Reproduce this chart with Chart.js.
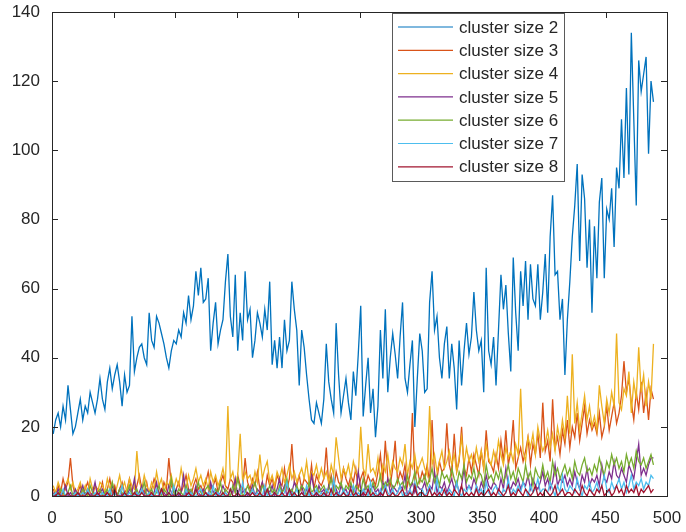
<!DOCTYPE html>
<html>
<head>
<meta charset="utf-8">
<script src="https://cdn.jsdelivr.net/npm/chart.js@4.4.1/dist/chart.umd.min.js"></script>
<style>
  html, body { margin: 0; padding: 0; background: #fff; }
  #cluster-chart { display: block; }
</style>
</head>
<body>
<canvas id="cluster-chart" width="686" height="532"></canvas>
<script>
// counts per cluster size, one sample every 2 steps (x = 1, 3, 5 ... 489)
const clusterLabels = ['cluster size 2', 'cluster size 3', 'cluster size 4', 'cluster size 5',
  'cluster size 6', 'cluster size 7', 'cluster size 8'];
const lineColors = ['#0072BD', '#D95319', '#EDB120', '#7E2F8E', '#77AC30', '#4DBEEE', '#A2142F'];

const size2 = [
  18,22,24,20,26,22,32,25,18,20, 24,28,22,26,24,30,27,24,28,34,
  28,25,33,37,31,35,38,33,26,35, 30,32,52,36,40,43,44,40,38,53,
  45,43,52,50,47,44,40,37,42,45, 44,48,46,53,50,58,51,55,65,58,
  66,56,57,63,42,50,56,44,48,51, 62,70,52,46,64,42,53,45,65,51,
  54,40,45,53,50,46,54,48,62,38, 45,37,46,37,51,42,45,62,54,48,
  32,48,43,35,28,22,21,27,24,21, 28,44,33,28,24,50,35,24,29,34,
  27,22,36,29,41,55,23,32,40,24, 31,17,26,48,34,54,30,40,47,41,
  34,46,56,34,30,38,45,20,34,47, 42,30,31,56,65,48,52,40,34,44,
  49,34,44,37,25,45,32,42,50,41, 46,59,48,42,45,30,66,42,38,46,
  32,48,64,54,61,47,36,69,53,42, 65,55,68,51,67,57,55,67,51,59,
  70,53,75,87,64,65,51,57,35,51, 62,75,84,96,68,93,86,66,80,53,
  78,63,85,92,63,83,80,89,72,95, 89,109,92,118,93,134,109,84,126,117,
  122,127,99,120,114
];
const size3 = [
  2,0,3,1,5,2,4,11,3,0, 1,3,0,2,4,1,0,3,2,1,
  4,0,2,5,1,3,0,2,4,1, 2,5,1,0,3,6,2,1,4,0,
  2,5,3,1,0,4,2,11,3,1, 2,4,1,3,6,2,0,3,5,2,
  3,1,4,7,2,3,5,1,4,6, 3,2,5,4,1,6,3,2,11,4,
  2,5,3,7,2,4,1,6,3,5, 2,6,4,3,8,2,5,15,4,3,
  6,2,5,4,3,9,2,6,4,3, 5,14,3,6,2,7,4,3,8,5,
  3,6,4,8,2,5,7,3,6,4, 5,3,7,12,4,16,5,3,8,16,
  4,7,5,9,3,6,24,5,8,4, 7,5,9,4,22,6,5,10,7,8,
  21,9,6,18,7,10,20,8,6,11, 7,12,9,6,13,8,19,10,9,7,
  12,8,16,10,19,9,13,22,8,11, 14,10,13,17,9,15,12,18,11,27,
  13,16,10,28,14,17,12,19,15,22, 14,20,17,24,16,21,26,18,22,19,
  21,18,24,17,20,26,19,23,27,21, 24,29,39,30,34,27,22,30,25,33,
  24,30,22,31,28
];
const size4 = [
  3,1,4,2,0,3,5,2,4,1, 2,4,1,3,0,5,2,3,1,4,
  3,1,5,2,4,0,3,6,2,4, 1,5,3,2,13,4,2,6,3,1,
  4,2,7,3,5,1,4,3,6,2, 5,3,8,4,2,6,3,5,8,4,
  6,3,5,2,7,4,6,3,5,8, 4,26,5,7,3,6,18,4,7,5,
  6,3,7,4,12,5,8,10,4,6, 3,7,5,8,4,6,9,5,7,4,
  6,8,5,10,4,7,6,9,5,8, 5,7,4,9,6,17,11,5,8,6,
  9,5,10,7,6,20,8,6,15,7, 8,6,11,5,9,7,12,6,10,8,
  7,11,9,15,6,10,8,12,7,9, 11,8,6,26,9,12,7,10,13,8,
  10,13,9,12,7,11,17,9,14,10, 12,9,14,10,13,8,15,11,9,13,
  10,16,12,9,14,11,13,10,15,12, 31,13,10,17,14,18,12,20,16,13,
  15,19,14,18,13,20,16,22,17,29, 18,41,21,27,19,24,29,22,26,20,
  23,19,32,26,21,28,24,30,26,47, 27,25,31,29,36,24,33,28,43,30,
  35,26,33,28,44
];
const size5 = [
  1,0,2,0,1,3,0,1,0,2, 0,1,3,0,2,0,1,4,0,1,
  2,0,1,0,3,1,0,2,0,1, 0,2,1,5,0,1,3,0,2,1,
  0,1,4,0,2,1,0,3,1,0, 2,0,1,6,0,2,1,0,3,1,
  0,2,1,0,4,1,2,0,1,3, 1,0,2,1,5,0,3,1,2,0,
  1,3,0,2,1,4,0,2,1,3, 0,2,5,1,3,0,2,1,4,2,
  1,3,0,2,1,6,2,0,3,1, 2,0,3,1,4,2,0,3,1,2,
  0,3,2,1,7,2,0,3,1,2, 3,1,2,0,4,2,5,1,3,2,
  1,3,2,6,0,2,4,1,3,2, 2,4,1,3,2,7,1,3,2,4,
  1,3,5,2,4,1,3,8,2,3, 2,5,3,1,4,2,6,3,2,4,
  3,1,5,2,8,3,2,4,3,5, 2,4,3,6,2,5,3,2,4,7,
  3,5,2,4,9,3,5,4,6,3, 5,3,7,4,2,6,4,8,3,5,
  4,6,3,9,5,4,7,5,10,6, 5,8,6,4,9,7,5,10,15,6,
  8,6,9,11,11
];
const size6 = [
  0,1,0,2,1,0,1,3,0,1, 1,0,2,1,0,3,1,0,1,2,
  0,1,2,0,4,1,0,2,1,0, 1,3,0,1,2,0,1,4,0,1,
  2,0,1,3,0,2,1,0,5,1, 0,2,1,0,3,1,2,0,1,4,
  1,0,2,3,1,0,2,1,4,0, 2,1,0,3,1,5,2,0,1,3,
  1,2,4,1,0,3,2,1,3,1, 2,0,3,1,2,5,1,2,0,3,
  1,3,2,0,4,1,2,3,1,2, 3,1,2,5,1,3,2,4,1,3,
  2,4,1,3,2,1,5,2,3,1, 4,2,3,6,2,4,3,5,2,3,
  5,3,4,2,6,3,4,7,3,5, 4,6,3,5,8,4,6,3,7,5,
  6,4,8,5,3,7,5,9,4,6, 5,8,4,7,6,3,9,5,6,4,
  7,5,8,4,6,9,5,7,4,8, 6,4,9,5,7,3,8,6,5,9,
  5,7,4,10,6,8,5,7,9,6, 8,5,10,7,6,9,11,7,8,6,
  9,7,11,8,6,10,8,12,9,11, 8,10,7,12,9,11,8,13,10,9,
  11,8,10,12,9
];
const size7 = [
  0,1,0,0,2,0,1,0,0,1, 0,0,1,0,2,0,0,1,0,0,
  1,0,0,2,0,1,0,0,3,0, 0,1,0,0,1,0,2,0,0,1,
  0,0,2,0,1,0,0,1,0,3, 0,1,0,0,2,0,1,0,0,1,
  2,0,0,1,0,3,0,1,0,0, 1,0,2,0,0,1,0,4,0,1,
  0,2,0,1,0,0,3,0,1,0, 1,0,2,0,1,4,0,1,0,2,
  0,1,0,3,0,1,0,2,0,1, 0,2,1,0,5,0,1,0,2,0,
  1,0,3,0,1,0,2,1,0,4, 0,1,0,2,0,3,1,0,2,0,
  1,3,0,1,0,2,0,4,1,0, 2,0,1,3,0,1,5,0,2,1,
  0,2,1,0,4,1,0,2,1,3, 1,0,3,1,2,0,4,1,0,2,
  3,1,0,2,1,5,0,2,1,3, 1,4,2,0,3,1,2,5,1,2,
  2,1,4,2,0,3,1,6,2,1, 3,2,1,5,2,0,3,2,4,1,
  2,4,1,3,6,2,1,4,2,3, 5,2,4,1,3,6,2,4,3,5,
  2,4,3,6,5
];
const size8 = [
  0,0,1,0,0,0,1,0,0,0, 1,0,0,0,1,0,0,0,1,0,
  0,0,1,0,0,2,0,0,0,1, 0,0,0,1,0,0,1,0,0,0,
  1,0,0,0,2,0,0,1,0,0, 0,1,0,0,0,1,0,0,2,0,
  0,0,1,0,0,0,1,0,0,1, 0,0,2,0,0,1,0,0,0,1,
  0,1,0,0,1,0,0,2,0,0, 1,0,0,1,0,0,2,0,1,0,
  0,1,0,0,2,0,0,1,0,0, 1,0,0,2,0,1,0,0,1,0,
  0,2,0,1,0,0,1,0,2,0, 1,0,0,1,0,2,0,0,1,0,
  0,1,2,0,0,1,0,3,0,1, 1,0,0,2,0,1,0,1,0,2,
  0,1,0,2,1,0,3,0,1,0, 1,0,2,0,1,0,1,2,0,1,
  0,2,1,0,1,3,0,1,0,2, 1,0,2,1,0,1,3,0,1,0,
  2,1,0,1,3,0,1,2,0,1, 1,0,2,1,0,3,1,0,2,1,
  0,2,1,3,0,1,2,0,1,3, 1,2,0,3,1,2,1,3,0,2,
  1,2,3,1,2
];

const xTicks = [0, 50, 100, 150, 200, 250, 300, 350, 400, 450, 500];
const yTicks = [0, 20, 40, 60, 80, 100, 120, 140];

const allSeries = [size2, size3, size4, size5, size6, size7, size8];
const sampleX = size2.map((v, i) => 2 * i + 1);

const axisColor = '#262626';
const fontFamily = '"Liberation Sans", Arial, Helvetica, sans-serif';

// box round the axes, inward ticks on all four sides, boxed legend top right
const matlabAxes = {
  id: 'matlabAxes',
  afterDraw(chart) {
    const ctx = chart.ctx;
    const { left, right, top, bottom } = chart.chartArea;
    const xs = chart.scales.x, ys = chart.scales.y;
    ctx.save();
    ctx.strokeStyle = axisColor;
    ctx.lineWidth = 1;
    ctx.strokeRect(Math.round(left) + 0.5, Math.round(top) + 0.5, Math.round(right - left), Math.round(bottom - top));
    ctx.beginPath();
    const tl = 6;
    xTicks.forEach(v => {
      const px = Math.round(xs.getPixelForValue(v)) + 0.5;
      ctx.moveTo(px, bottom); ctx.lineTo(px, bottom - tl);
      ctx.moveTo(px, top); ctx.lineTo(px, top + tl);
    });
    yTicks.forEach(v => {
      const py = Math.round(ys.getPixelForValue(v)) + 0.5;
      ctx.moveTo(left, py); ctx.lineTo(left + tl, py);
      ctx.moveTo(right, py); ctx.lineTo(right - tl, py);
    });
    ctx.stroke();

    // legend
    const bx = right - 275, by = top + 1, bw = 172, bh = 168;
    ctx.fillStyle = '#fff';
    ctx.fillRect(bx, by, bw, bh);
    ctx.strokeStyle = '#5a5a5a';
    ctx.strokeRect(bx + 0.5, by + 0.5, bw, bh);
    ctx.font = '17px ' + fontFamily;
    ctx.textBaseline = 'middle';
    ctx.fillStyle = axisColor;
    chart.data.datasets.forEach((ds, i) => {
      const ly = by + 14 + i * 23.3;
      ctx.strokeStyle = ds.borderColor;
      ctx.lineWidth = 1.2;
      ctx.beginPath();
      ctx.moveTo(bx + 6, ly); ctx.lineTo(bx + 61, ly);
      ctx.stroke();
      ctx.fillText(ds.label, bx + 67, ly + 1);
    });
    ctx.restore();
  }
};

const ctx = document.getElementById('cluster-chart').getContext('2d');
const clusterChart = new Chart(ctx, {
  type: 'line',
  data: {
    datasets: allSeries.map((vals, i) => ({
      label: clusterLabels[i],
      data: vals.map((v, j) => ({ x: sampleX[j], y: v })),
      borderColor: lineColors[i],
      backgroundColor: lineColors[i],
      borderWidth: 1.3,
      pointRadius: 0,
      tension: 0,
      fill: false,
      order: allSeries.length - i
    }))
  },
  options: {
    responsive: false,
    animation: false,
    devicePixelRatio: 1,
    layout: { padding: { top: 12, right: 19, left: 0, bottom: 0 } },
    scales: {
      x: {
        type: 'linear',
        min: 0,
        max: 500,
        afterBuildTicks: s => { s.ticks = xTicks.map(v => ({ value: v })); },
        afterFit: s => { s.height = 36; s.paddingLeft = 0; s.paddingRight = 0; },
        ticks: { color: axisColor, font: { family: fontFamily, size: 17 }, padding: 4, maxRotation: 0, autoSkip: false },
        grid: { display: false },
        border: { display: false }
      },
      y: {
        min: 0,
        max: 140,
        afterBuildTicks: s => { s.ticks = yTicks.map(v => ({ value: v })); },
        afterFit: s => { s.width = 52; s.paddingTop = 0; s.paddingBottom = 0; },
        ticks: { color: axisColor, font: { family: fontFamily, size: 17 }, padding: 4 },
        grid: { display: false },
        border: { display: false }
      }
    },
    plugins: {
      legend: { display: false },
      tooltip: { enabled: false }
    }
  },
  plugins: [matlabAxes]
});
</script>
</body>
</html>
